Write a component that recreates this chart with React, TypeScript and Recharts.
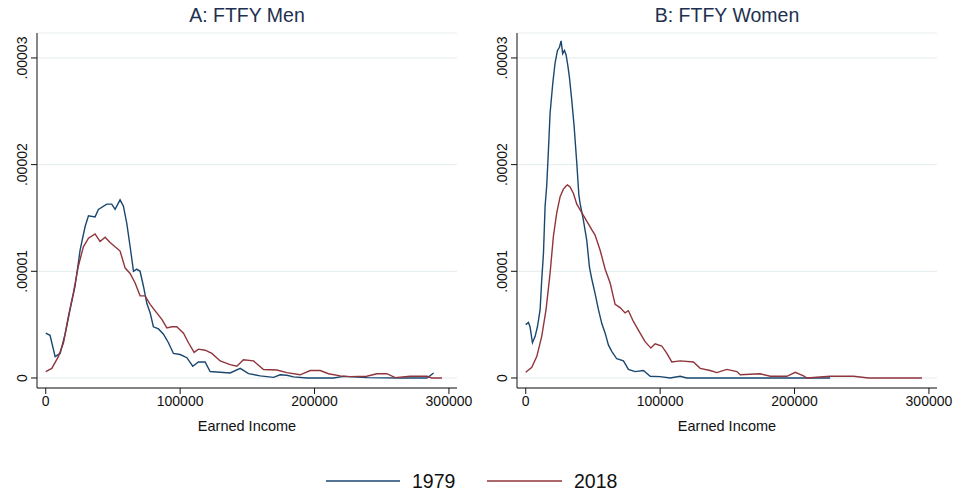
import React from "react";
import { LineChart, Line, XAxis, YAxis, CartesianGrid } from "recharts";

// density values are in units of 1e-5
const menX1979 = [0, 3200, 7000, 10700, 14400, 18100, 21800, 25600, 29300, 31800, 36700, 39200, 45400, 49100, 51600, 55300, 57800, 60300, 62800, 65300, 67700, 70200, 72700, 75200, 77700, 80100, 83900, 87600, 91300, 95000, 100000, 105000, 109400, 113600, 118600, 122300, 127300, 137200, 144700, 150900, 159600, 169500, 174400, 179400, 184400, 194300, 214100, 221600, 239000, 263800, 283600, 288600];
const menY1979 = [0.42, 0.4, 0.2, 0.23, 0.41, 0.64, 0.86, 1.2, 1.42, 1.52, 1.51, 1.58, 1.63, 1.63, 1.58, 1.67, 1.61, 1.45, 1.23, 1.0, 1.02, 1.0, 0.86, 0.7, 0.61, 0.48, 0.46, 0.41, 0.33, 0.23, 0.22, 0.19, 0.11, 0.15, 0.15, 0.06, 0.056, 0.047, 0.09, 0.04, 0.02, 0.006, 0.03, 0.025, 0.01, 0, 0, 0.015, 0.003, 0, 0, 0.047];

const menX2018 = [0, 4500, 9400, 13200, 16900, 20600, 24300, 28000, 31800, 36700, 40400, 44200, 47900, 51600, 55300, 59100, 62800, 66500, 70200, 73900, 77700, 82600, 86400, 90100, 93800, 97500, 102500, 106200, 110400, 113600, 118600, 123600, 129800, 137200, 142200, 147100, 154600, 162000, 172000, 179400, 189300, 196800, 204200, 210400, 219100, 226500, 238900, 246400, 253800, 260000, 271200, 283600, 287300, 294800];
const menY2018 = [0.06, 0.09, 0.2, 0.33, 0.58, 0.8, 1.05, 1.23, 1.31, 1.35, 1.28, 1.32, 1.27, 1.23, 1.19, 1.03, 0.98, 0.89, 0.77, 0.77, 0.69, 0.61, 0.55, 0.47, 0.48, 0.48, 0.42, 0.33, 0.24, 0.27, 0.26, 0.23, 0.16, 0.125, 0.11, 0.17, 0.16, 0.08, 0.075, 0.05, 0.03, 0.07, 0.07, 0.04, 0.02, 0.013, 0.016, 0.04, 0.04, 0.003, 0.016, 0.016, 0, 0];

const womenX1979 = [0, 2000, 3200, 5000, 7000, 8700, 10700, 11900, 13200, 14400, 15600, 16900, 18100, 20100, 21800, 23600, 25100, 26300, 27500, 28800, 30000, 31300, 32500, 34200, 36000, 38000, 39500, 40400, 42900, 45400, 47400, 49100, 51600, 54100, 56600, 59100, 61500, 64000, 67700, 72700, 76400, 81400, 87600, 92600, 100000, 107400, 114900, 119800, 164500, 226500];
const womenY1979 = [0.5, 0.52, 0.48, 0.33, 0.39, 0.48, 0.64, 0.92, 1.17, 1.61, 1.8, 2.14, 2.48, 2.76, 2.95, 3.07, 3.1, 3.16, 3.04, 3.07, 3.03, 2.93, 2.82, 2.61, 2.36, 2.01, 1.72, 1.64, 1.48, 1.29, 1.04, 0.93, 0.79, 0.64, 0.51, 0.42, 0.31, 0.25, 0.18, 0.16, 0.08, 0.06, 0.07, 0.016, 0.013, 0, 0.016, 0, 0, 0];

const womenX2018 = [0, 4500, 8200, 11900, 15100, 18100, 20600, 23100, 25600, 28000, 30000, 31000, 33000, 35500, 38000, 41700, 45400, 49100, 51600, 55300, 59100, 62800, 66500, 70200, 73900, 76400, 80100, 85100, 88800, 93100, 96300, 101200, 105000, 108700, 114900, 124800, 129800, 137200, 142200, 149600, 157100, 159600, 174400, 181900, 194300, 200500, 206700, 209200, 226500, 243900, 255000, 294800];
const womenY2018 = [0.053, 0.1, 0.2, 0.39, 0.64, 0.98, 1.33, 1.55, 1.7, 1.77, 1.8, 1.81, 1.79, 1.73, 1.63, 1.55, 1.47, 1.39, 1.34, 1.2, 1.02, 0.89, 0.69, 0.66, 0.61, 0.63, 0.53, 0.42, 0.34, 0.28, 0.32, 0.3, 0.23, 0.15, 0.16, 0.15, 0.09, 0.07, 0.05, 0.08, 0.06, 0.03, 0.04, 0.016, 0.016, 0.053, 0.02, 0, 0.016, 0.016, 0, 0];

const xTicks = [0, 100000, 200000, 300000];
const yTicks = [0, 1, 2, 3];
const yTickLabels = ["0", ".00001", ".00002", ".00003"];
const years = ["1979", "2018"];

const BLUE = "#1a476f";
const RED = "#90353b";
const FONT = "'Liberation Sans', Arial, sans-serif";

const toPoints = (xs: number[], ys: number[]) => xs.map((x, i) => ({ x, y: ys[i] }));

const YTick = (props: any) => {
  const { x, y, payload } = props;
  const label = yTickLabels[yTicks.indexOf(payload.value)];
  return (
    <text
      x={x - 2}
      y={y}
      transform={`rotate(-90, ${x - 2}, ${y})`}
      textAnchor="middle"
      fontSize={14}
      fontFamily={FONT}
      fill="#111"
    >
      {label}
    </text>
  );
};

interface PanelProps {
  title: string;
  left: number;
  a: { x: number; y: number }[];
  b: { x: number; y: number }[];
}

function Panel({ title, left, a, b }: PanelProps) {
  return (
    <div style={{ position: "absolute", left, top: 0, width: 480, height: 440 }}>
      <div
        style={{
          position: "absolute",
          left: 37,
          width: 420,
          top: 4,
          textAlign: "center",
          fontFamily: FONT,
          fontSize: 19.5,
          color: "#1e3050",
        }}
      >
        {title}
      </div>
      <LineChart width={480} height={440} margin={{ top: 33, right: 23, bottom: 0, left: 7 }}>
        <CartesianGrid horizontal vertical={false} stroke="#e8f0f2" strokeWidth={1.2} />
        <XAxis
          type="number"
          dataKey="x"
          domain={[-6500, 306000]}
          ticks={xTicks}
          allowDataOverflow
          height={52}
          stroke="#111"
          tickSize={6}
          tick={{ fontSize: 14, fill: "#111", fontFamily: FONT }}
          label={{ value: "Earned Income", position: "insideBottom", offset: 9, fontSize: 14.5, fill: "#111", fontFamily: FONT }}
        />
        <YAxis
          type="number"
          dataKey="y"
          domain={[-0.094, 3.234]}
          ticks={yTicks}
          allowDataOverflow
          width={30}
          stroke="#111"
          tickSize={6}
          tick={<YTick />}
        />
        <Line data={a} dataKey="y" type="linear" stroke={BLUE} strokeWidth={1.4} dot={false} isAnimationActive={false} />
        <Line data={b} dataKey="y" type="linear" stroke={RED} strokeWidth={1.4} dot={false} isAnimationActive={false} />
      </LineChart>
    </div>
  );
}

export default function App() {
  return (
    <div style={{ position: "absolute", left: 0, top: 0, width: 959, height: 496, background: "#fff" }}>
      <Panel title="A: FTFY Men" left={0} a={toPoints(menX1979, menY1979)} b={toPoints(menX2018, menY2018)} />
      <Panel title="B: FTFY Women" left={480} a={toPoints(womenX1979, womenY1979)} b={toPoints(womenX2018, womenY2018)} />
      <svg style={{ position: "absolute", left: 0, top: 460 }} width={959} height={36}>
        <line x1={326} x2={400} y1={21} y2={21} stroke={BLUE} strokeWidth={1.5} />
        <text x={412} y={28} fontSize={19.5} fontFamily={FONT} fill="#111">{years[0]}</text>
        <line x1={487} x2={562} y1={21} y2={21} stroke={RED} strokeWidth={1.5} />
        <text x={574} y={28} fontSize={19.5} fontFamily={FONT} fill="#111">{years[1]}</text>
      </svg>
    </div>
  );
}
